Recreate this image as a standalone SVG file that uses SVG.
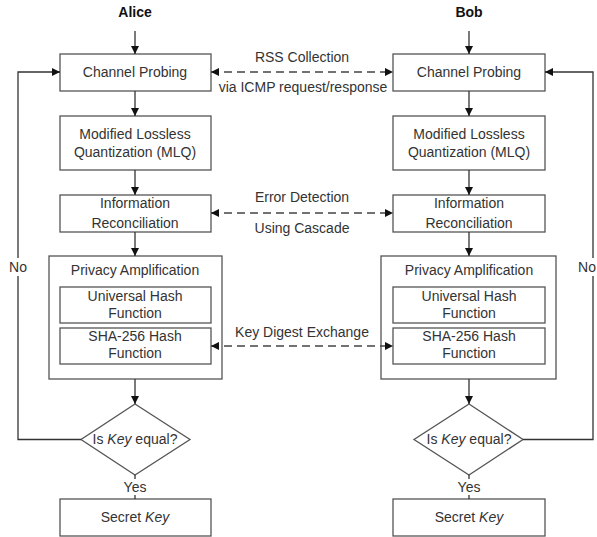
<svg xmlns="http://www.w3.org/2000/svg" width="597" height="537" viewBox="0 0 597 537">
<defs>
<marker id="ah" viewBox="0 0 10 10" refX="10" refY="5" markerWidth="8" markerHeight="8" markerUnits="userSpaceOnUse" orient="auto-start-reverse">
<path d="M0,0 L10,5 L0,10 z" fill="#111"/>
</marker>
<style>
.box{fill:#fff;stroke:#555;stroke-width:1.3}
.t{font-family:"Liberation Sans",Arial,sans-serif;font-size:14px;fill:#333;text-anchor:middle}
.b{font-weight:bold;fill:#111}
.ln{fill:none;stroke:#333;stroke-width:1.3}
.ds{fill:none;stroke:#444;stroke-width:1.5;stroke-dasharray:8,5}
</style>
</defs>
<rect width="597" height="537" fill="#fff"/>
<g id="alice_label"><text class="t b" x="135" y="17">Alice</text></g>
<g id="bob_label"><text class="t b" x="469" y="17">Bob</text></g>
<g id="alice_probe"><rect class="box" x="60" y="54" width="151" height="37"/><text class="t" x="135" y="77">Channel Probing</text></g>
<g id="bob_probe"><rect class="box" x="393" y="54" width="152" height="37"/><text class="t" x="469" y="77">Channel Probing</text></g>
<g id="alice_mlq"><rect class="box" x="60" y="116" width="151" height="54"/><text class="t" x="135" y="139">Modified Lossless</text><text class="t" x="135" y="157">Quantization (MLQ)</text></g>
<g id="bob_mlq"><rect class="box" x="393" y="116" width="152" height="54"/><text class="t" x="469" y="139">Modified Lossless</text><text class="t" x="469" y="157">Quantization (MLQ)</text></g>
<g id="alice_ir"><rect class="box" x="60" y="195" width="151" height="37"/><text class="t" x="135" y="208">Information</text><text class="t" x="135" y="228">Reconciliation</text></g>
<g id="bob_ir"><rect class="box" x="393" y="195" width="152" height="37"/><text class="t" x="469" y="208">Information</text><text class="t" x="469" y="228">Reconciliation</text></g>
<g id="alice_pa"><rect class="box" x="49" y="256" width="173" height="123"/><text class="t" x="135" y="275">Privacy Amplification</text>
<rect class="box" x="60" y="287" width="151" height="36"/><text class="t" x="135" y="301">Universal Hash</text><text class="t" x="135" y="318">Function</text>
<rect class="box" x="60" y="328" width="151" height="36"/><text class="t" x="135" y="341">SHA-256 Hash</text><text class="t" x="135" y="358">Function</text></g>
<g id="bob_pa"><rect class="box" x="381" y="256" width="175" height="123"/><text class="t" x="469" y="275">Privacy Amplification</text>
<rect class="box" x="393" y="287" width="152" height="36"/><text class="t" x="469" y="301">Universal Hash</text><text class="t" x="469" y="318">Function</text>
<rect class="box" x="393" y="328" width="152" height="36"/><text class="t" x="469" y="341">SHA-256 Hash</text><text class="t" x="469" y="358">Function</text></g>
<g id="alice_dec"><polygon class="box" points="135,404 190,439.5 135,475 81,439.5"/><text class="t" x="135" y="444">Is <tspan font-style="italic">Key</tspan> equal?</text></g>
<g id="bob_dec"><polygon class="box" points="469,404 523,439.5 469,475 414,439.5"/><text class="t" x="469" y="444">Is <tspan font-style="italic">Key</tspan> equal?</text></g>
<g id="alice_key"><rect class="box" x="60" y="499" width="151" height="37"/><text class="t" x="135" y="522">Secret <tspan font-style="italic">Key</tspan></text></g>
<g id="bob_key"><rect class="box" x="393" y="499" width="152" height="37"/><text class="t" x="469" y="522">Secret <tspan font-style="italic">Key</tspan></text></g>
<g id="connectors">
<line class="ln" x1="135" y1="31" x2="135" y2="54" marker-end="url(#ah)"/>
<line class="ln" x1="469" y1="31" x2="469" y2="54" marker-end="url(#ah)"/>
<line class="ln" x1="135" y1="91" x2="135" y2="116" marker-end="url(#ah)"/>
<line class="ln" x1="469" y1="91" x2="469" y2="116" marker-end="url(#ah)"/>
<line class="ln" x1="135" y1="170" x2="135" y2="195" marker-end="url(#ah)"/>
<line class="ln" x1="469" y1="170" x2="469" y2="195" marker-end="url(#ah)"/>
<line class="ln" x1="135" y1="232" x2="135" y2="256" marker-end="url(#ah)"/>
<line class="ln" x1="469" y1="232" x2="469" y2="256" marker-end="url(#ah)"/>
<line class="ln" x1="135" y1="379" x2="135" y2="404" marker-end="url(#ah)"/>
<line class="ln" x1="469" y1="379" x2="469" y2="404" marker-end="url(#ah)"/>
<line class="ln" x1="135" y1="475" x2="135" y2="499"/>
<line class="ln" x1="469" y1="475" x2="469" y2="499"/>
<polyline class="ln" points="81,439.5 18,439.5 18,72 60,72" marker-end="url(#ah)"/>
<polyline class="ln" points="523,439.5 593,439.5 593,72 545,72" marker-end="url(#ah)"/>
<line class="ds" x1="211" y1="72" x2="393" y2="72" marker-start="url(#ah)" marker-end="url(#ah)"/>
<line class="ds" x1="211" y1="213" x2="393" y2="213" marker-start="url(#ah)" marker-end="url(#ah)"/>
<line class="ds" x1="211" y1="346" x2="393" y2="346" marker-start="url(#ah)" marker-end="url(#ah)"/>
<rect x="6" y="258" width="24" height="18" fill="#fff"/>
<rect x="577" y="258" width="20" height="18" fill="#fff"/>
<rect x="120" y="479" width="30" height="16" fill="#fff"/>
<rect x="454" y="479" width="30" height="16" fill="#fff"/>
<text class="t" x="18" y="272">No</text>
<text class="t" x="596" y="272" style="text-anchor:end">No</text>
<text class="t" x="135" y="492">Yes</text>
<text class="t" x="469" y="492">Yes</text>
<text class="t" x="302" y="62">RSS Collection</text>
<text class="t" x="303" y="92">via ICMP request/response</text>
<text class="t" x="302" y="202">Error Detection</text>
<text class="t" x="302" y="233">Using Cascade</text>
<text class="t" x="302" y="337">Key Digest Exchange</text>
</g>
</svg>
